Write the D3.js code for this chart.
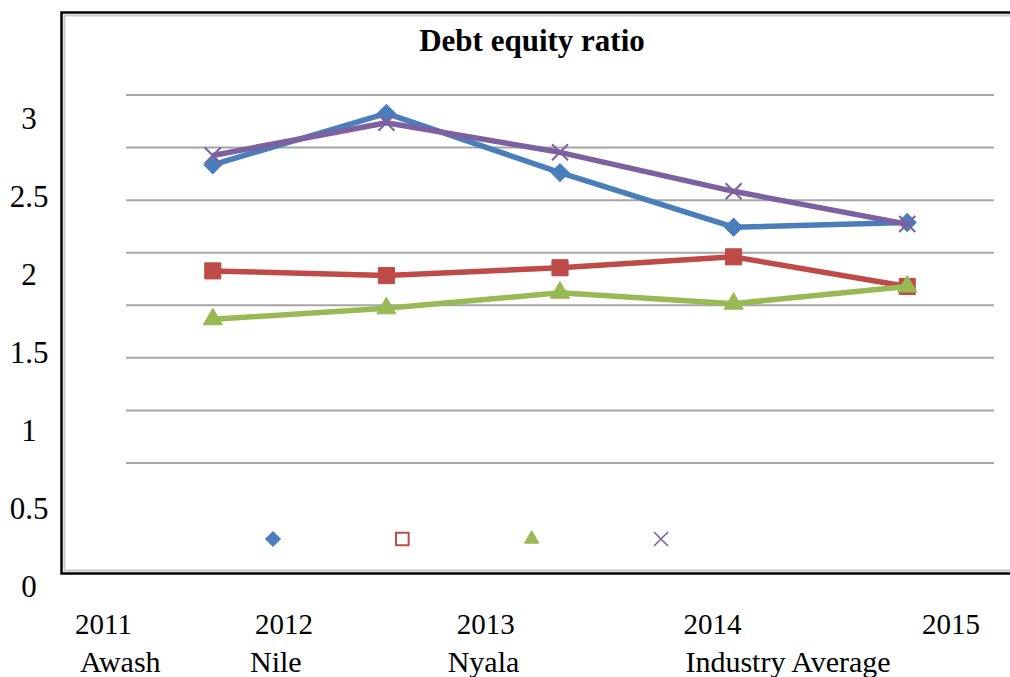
<!DOCTYPE html>
<html>
<head>
<meta charset="utf-8">
<script src="https://cdn.jsdelivr.net/npm/d3@7"></script>
<style>
  body { margin: 0; background: #fff; }
  text { font-family: "Liberation Serif", "Times New Roman", serif; fill: #000; }
</style>
</head>
<body>
<div id="chart"></div>
<script>
// Data
const years = ["2011", "2012", "2013", "2014", "2015"];
const seriesNames = ["Awash", "Nile", "Nyala", "Industry Average"];
const awash = [2.70, 3.03, 2.65, 2.30, 2.33];
const nile = [2.02, 1.99, 2.04, 2.11, 1.92];
const nyala = [1.71, 1.78, 1.88, 1.81, 1.92];
const industryAverage = [2.76, 2.97, 2.78, 2.53, 2.32];
const yTickLabels = ["0", "0.5", "1", "1.5", "2", "2.5", "3"];

const width = 1010, height = 677;

const svg = d3.select("#chart")
    .append("svg")
    .attr("width", width)
    .attr("height", height);

// Scales
const x = d3.scaleBand().domain(years).range([126, 994]);
const y = d3.scaleLinear().domain([0, 3]).range([586, 118]);
// the plot's own gridlines are spaced on their own, independent of the labels
const grid = d3.scaleLinear().domain([0, 8]).range([515.5, 95]);
// the typed year / name labels drift wider to the right
const labelX = d3.scalePow().exponent(1.15).domain([0, 4]).range([75, 922]);
const legendX = d3.scaleLinear().domain([0, 3]).range([273, 661]);

// Frame (open on the right side)
svg.append("path")
    .attr("d", "M1012,15.5 H64.5 V570.5 H1012")
    .attr("fill", "none")
    .attr("stroke", "#c8c8c8")
    .attr("stroke-width", 2);
svg.append("path")
    .attr("d", "M1012,12.5 H61.5 V573.5 H1012")
    .attr("fill", "none")
    .attr("stroke", "#000")
    .attr("stroke-width", 2.5);

// Gridlines
svg.append("g")
    .selectAll("line")
    .data(grid.ticks(8).filter(d => d > 0))
    .enter()
    .append("line")
    .attr("x1", 126)
    .attr("x2", 994)
    .attr("y1", d => grid(d))
    .attr("y2", d => grid(d))
    .attr("stroke", "#a6a6a6")
    .attr("stroke-width", 2);

// Title
svg.append("text")
    .attr("x", 532)
    .attr("y", 51)
    .attr("text-anchor", "middle")
    .style("font-size", "31px")
    .style("font-weight", "bold")
    .text("Debt equity ratio");

// Y labels
svg.append("g")
    .selectAll("text")
    .data(yTickLabels)
    .enter()
    .append("text")
    .attr("x", 29)
    .attr("y", d => y(+d))
    .attr("dy", "0.35em")
    .attr("text-anchor", "middle")
    .style("font-size", "31px")
    .text(d => d);

// Year labels and series names below the frame
svg.append("g")
    .selectAll("text")
    .data(years)
    .enter()
    .append("text")
    .attr("x", (d, i) => labelX(i) + (i === 1 ? 8 : 0))
    .attr("y", 634)
    .style("font-size", "29px")
    .text(d => d);

const nameShift = [5, 3, -9, 2];
svg.append("g")
    .selectAll("text")
    .data(seriesNames)
    .enter()
    .append("text")
    .attr("x", (d, i) => labelX(i) + nameShift[i])
    .attr("y", 672)
    .style("font-size", "30px")
    .text(d => d);

// Series
const series = [
    {name: "Awash", values: awash, color: "#4a7ebb", symbol: "diamond", size: 160},
    {name: "Nile", values: nile, color: "#be4b48", symbol: d3.symbolSquare, size: 260},
    {name: "Nyala", values: nyala, color: "#98b954", symbol: d3.symbolTriangle, size: 160},
    {name: "Industry Average", values: industryAverage, color: "#7d60a0", symbol: "cross", size: 14}
];

const line = d3.line()
    .x((d, i) => x(years[i]) + x.bandwidth() / 2)
    .y(d => y(d));

function drawMarker(g, s, cx, cy, legend) {
    if (s.symbol === "cross") {
        const r = legend ? 7 : 8;
        g.append("path")
            .attr("d", `M${cx - r},${cy - r}L${cx + r},${cy + r}M${cx - r},${cy + r}L${cx + r},${cy - r}`)
            .attr("stroke", s.color)
            .attr("stroke-width", legend ? 1.5 : 2)
            .attr("fill", "none");
    } else if (s.symbol === "diamond") {
        g.append("path")
            .attr("d", d3.symbol(d3.symbolSquare, legend ? 110 : s.size)())
            .attr("transform", `translate(${cx},${cy}) rotate(45)`)
            .attr("fill", s.color)
            .attr("stroke", s.color)
            .attr("stroke-width", 1);
    } else {
        const square = s.symbol === d3.symbolSquare;
        g.append("path")
            .attr("d", d3.symbol(s.symbol, legend ? (square ? 160 : 90) : s.size)())
            .attr("transform", `translate(${cx},${cy})`)
            .attr("fill", legend && square ? "none" : s.color)
            .attr("stroke", s.color)
            .attr("stroke-width", legend && square ? 2 : 1);
    }
}

// draw order: Awash, Nile, Nyala, Industry Average on top
series.forEach(s => {
    const g = svg.append("g");
    g.append("path")
        .datum(s.values)
        .attr("d", line)
        .attr("fill", "none")
        .attr("stroke", s.color)
        .attr("stroke-width", 5.5)
        .attr("stroke-linejoin", "round");
    s.values.forEach((v, i) => {
        drawMarker(g, s, x(years[i]) + x.bandwidth() / 2, y(v), false);
    });
});

// Legend (markers only)
series.forEach((s, i) => {
    drawMarker(svg.append("g"), s, legendX(i), 539, true);
});
</script>
</body>
</html>
